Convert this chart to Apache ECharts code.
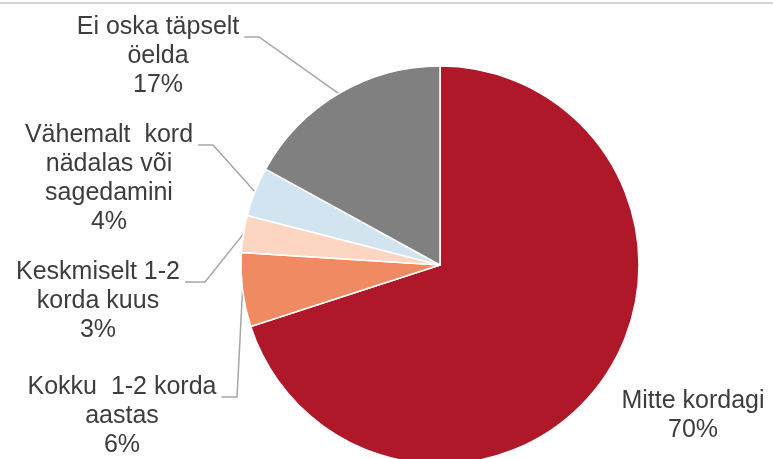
<!DOCTYPE html>
<html>
<head>
<meta charset="utf-8">
<script src="https://cdn.jsdelivr.net/npm/echarts@6/dist/echarts.min.js"></script>
<style>
html,body{margin:0;padding:0;background:#fff;}
#chart{width:773px;height:459px;}
</style>
</head>
<body>
<div id="chart"></div>
<script>
// ---- data ----
const categories = ['Mitte kordagi', 'Kokku 1-2 korda aastas', 'Keskmiselt 1-2 korda kuus', 'Vähemalt kord nädalas või sagedamini', 'Ei oska täpselt öelda'];
const labelTexts = [['Mitte kordagi'], ['Kokku  1-2 korda', 'aastas'], ['Keskmiselt 1-2', 'korda kuus'], ['Vähemalt  kord', 'nädalas või', 'sagedamini'], ['Ei oska täpselt', 'öelda']];
const values = [70, 6, 3, 4, 17];

// ---- styles / layout ----
const colors = ['#ae1829', '#ef8a62', '#fdd6c2', '#d2e4ef', '#808080'];
const labelAnchors = [[693, 401], [122, 387], [98, 272], [109, 135], [158, 27]]; // centre x, first-line centre y
const kneeX = [null, 237, 205, 213, 259];
const showLeader = [false, true, true, true, true];
const FONT = '"Liberation Sans", Arial, sans-serif';
const FS = 25, LH = 29;

const mctx = document.createElement('canvas').getContext('2d');
mctx.font = FS + 'px ' + FONT;

const chart = echarts.init(document.getElementById('chart'));
chart.setOption({
  animation: false,
  backgroundColor: '#ffffff',
  graphic: [{
    type: 'line', shape: {x1: 0, y1: 3, x2: 773, y2: 3},
    style: {stroke: '#d6d6d6', lineWidth: 2}, silent: true
  }],
  series: [{
    type: 'pie',
    center: [440, 265],
    radius: 199,
    startAngle: 90,
    clockwise: true,
    avoidLabelOverlap: false,
    itemStyle: {borderColor: '#ffffff', borderWidth: 1.5},
    label: {
      show: true,
      position: 'outside',
      overflow: 'none',
      color: '#3d3d3d',
      fontFamily: FONT,
      fontSize: FS,
      lineHeight: LH,
      formatter: p => labelTexts[p.dataIndex].join('\n') + '\n' + p.value + '%'
    },
    labelLine: {show: true, lineStyle: {color: '#a6a6a6', width: 1.5}},
    labelLayout: function (params) {
      const i = params.dataIndex;
      const a = labelAnchors[i];
      const res = {x: a[0], y: a[1] - LH / 2, align: 'center', verticalAlign: 'top'};
      if (showLeader[i] && params.labelLinePoints) {
        const w = mctx.measureText(labelTexts[i][0]).width;
        const endX = a[0] + w / 2 + 5;
        const yLine = a[1] + 10;
        const p0 = params.labelLinePoints[0];
        res.labelLinePoints = [[p0[0], p0[1]], [Math.max(kneeX[i], endX + 6), yLine], [endX, yLine]];
      }
      return res;
    },
    data: categories.map((c, i) => ({
      name: c,
      value: values[i],
      itemStyle: {color: colors[i]},
      labelLine: {show: showLeader[i]}
    }))
  }]
});
</script>
</body>
</html>
